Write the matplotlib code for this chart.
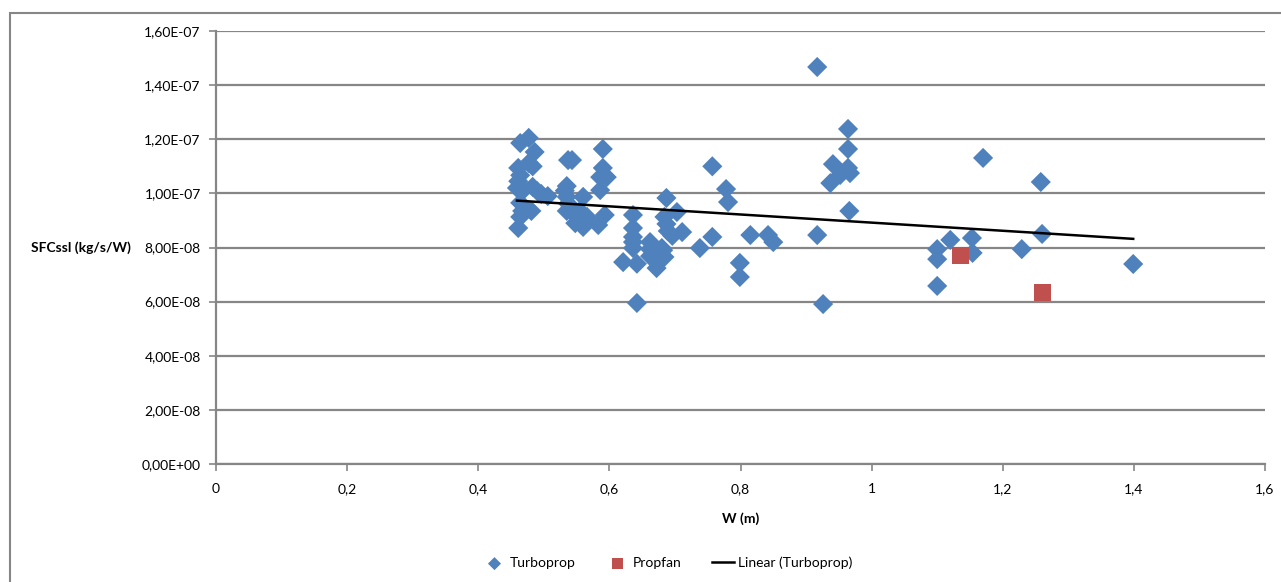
import numpy as np
import matplotlib.pyplot as plt
from matplotlib.ticker import FuncFormatter, MultipleLocator
from matplotlib.patches import Rectangle

# Turboprop: diametro W (m) e consumo specifico SFCssl (kg/s/W)
turbo_w = [0.464, 0.477, 0.486, 0.461, 0.477, 0.483, 0.464, 0.461, 0.464, 0.459,
           0.467, 0.483, 0.490, 0.496, 0.506, 0.464, 0.467, 0.481, 0.464, 0.461,
           0.537, 0.543, 0.535, 0.532, 0.535, 0.537, 0.535, 0.548, 0.560, 0.560,
           0.566, 0.546, 0.555, 0.590, 0.590, 0.586, 0.596, 0.586, 0.593, 0.583,
           0.636, 0.636, 0.636, 0.636, 0.636, 0.621, 0.642, 0.642, 0.662, 0.662,
           0.662, 0.672, 0.680, 0.682, 0.677, 0.684, 0.687, 0.684, 0.687, 0.689,
           0.696, 0.703, 0.711, 0.738, 0.757, 0.757, 0.778, 0.781, 0.799, 0.799,
           0.815, 0.842, 0.850, 0.917, 0.964, 0.964, 0.941, 0.964, 0.967, 0.952,
           0.937, 0.966, 0.917, 0.926, 1.170, 1.258, 1.100, 1.100, 1.120, 1.153,
           1.154, 1.100, 1.229, 1.260, 1.399]
turbo_sfc = [1.186, 1.205, 1.153, 1.094, 1.112, 1.100, 1.067, 1.045, 1.030, 1.020,
             1.008, 1.024, 1.008, 0.998, 0.990, 0.965, 0.935, 0.935, 0.913, 0.872,
             1.123, 1.123, 1.027, 1.010, 0.987, 0.962, 0.935, 0.890, 0.876, 0.987,
             0.913, 0.925, 0.935, 1.164, 1.094, 1.060, 1.060, 1.012, 0.920, 0.883,
             0.920, 0.872, 0.839, 0.820, 0.798, 0.746, 0.740, 0.595, 0.820, 0.794,
             0.768, 0.724, 0.798, 0.790, 0.776, 0.765, 0.983, 0.913, 0.887, 0.861,
             0.843, 0.931, 0.857, 0.798, 1.100, 0.839, 1.016, 0.968, 0.743, 0.691,
             0.846, 0.846, 0.820, 1.467, 1.238, 1.164, 1.108, 1.094, 1.075, 1.068,
             1.038, 0.935, 0.846, 0.591, 1.131, 1.042, 0.794, 0.757, 0.828, 0.835,
             0.780, 0.658, 0.794, 0.850, 0.739]

# Propfan
prop_w = [1.135, 1.261]
prop_sfc = [0.772, 0.632]

tw = np.array(turbo_w)
ts = np.array(turbo_sfc) * 1e-7
pw = np.array(prop_w)
ps = np.array(prop_sfc) * 1e-7

# retta di regressione sui turboprop
m, q = np.polyfit(tw, ts, 1)
xl = np.array([tw.min(), tw.max()])

blu = '#4F81BD'
rosso = '#C0504D'
grigio = '#868686'

plt.rcParams['font.family'] = ['Lato', 'DejaVu Sans']

fig = plt.figure(figsize=(12.81, 5.82), dpi=100)
ax = fig.add_axes([216/1281, 118/582, 1049/1281, 433/582])

# cornice esterna del grafico
fig.patches.append(Rectangle((10/1281, -0.05), 1.1, (582-13)/582 + 0.05,
                             transform=fig.transFigure, fill=False,
                             edgecolor=grigio, linewidth=1.5, zorder=0))

ax.scatter(tw, ts, marker='D', s=105, color=blu, edgecolors='none', zorder=3, label='Turboprop')
ax.scatter(pw, ps, marker='s', s=150, color=rosso, edgecolors='none', zorder=3, label='Propfan')
ax.plot(xl, m * xl + q, color='black', linewidth=1.8, zorder=4, label='Linear (Turboprop)')

ax.set_xlim(0, 1.6)
ax.set_ylim(0, 1.6e-7)
ax.xaxis.set_major_locator(MultipleLocator(0.2))
ax.yaxis.set_major_locator(MultipleLocator(2e-8))
ax.xaxis.set_major_formatter(FuncFormatter(lambda v, p: ('%g' % round(v, 2)).replace('.', ',')))
ax.yaxis.set_major_formatter(FuncFormatter(lambda v, p: ('%.2E' % v).replace('.', ',')))

ax.grid(axis='y', color=grigio, linewidth=1.6, zorder=1)
ax.set_axisbelow(True)
for s in ['top', 'right']:
    ax.spines[s].set_visible(False)
for s in ['left', 'bottom']:
    ax.spines[s].set_color(grigio)
    ax.spines[s].set_linewidth(1.6)
ax.tick_params(direction='out', length=5, width=1.2, color=grigio, labelsize=10)
ax.tick_params(axis='x', pad=9)
ax.tick_params(axis='y', pad=6)

ax.set_xlabel('W (m)', fontsize=10, fontweight='bold', labelpad=12)
ax.set_ylabel('SFCssl (kg/s/W)', fontsize=10, fontweight='bold', rotation=0,
              ha='right', va='center', labelpad=8)

ax.legend(loc='center', bbox_to_anchor=(668/1281, 19/582), bbox_transform=fig.transFigure,
          ncol=3, frameon=False, fontsize=10, handlelength=1.6, columnspacing=2.2,
          handletextpad=0.3, markerscale=0.65)

fig.savefig('out.png', dpi=100)
